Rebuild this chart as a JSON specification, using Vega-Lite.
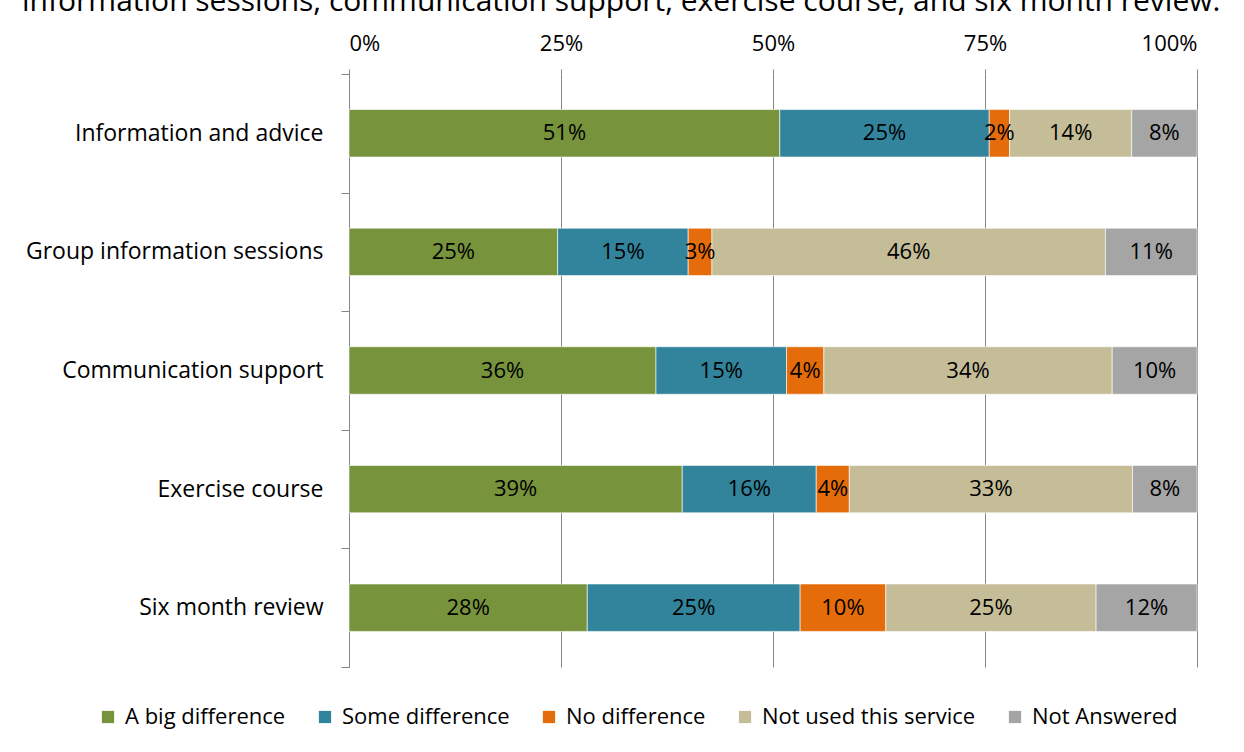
{
  "$schema": "https://vega.github.io/schema/vega-lite/v6.json",
  "width": 848,
  "height": 593,
  "autosize": {"type": "none"},
  "padding": {"left": 349, "top": 74, "right": 47, "bottom": 85},
  "title": {
    "text": "information sessions, communication support, exercise course, and six month review.",
    "anchor": "start",
    "frame": "group",
    "dx": -327,
    "offset": 15,
    "fontSize": 30,
    "font": "Open Sans",
    "fontWeight": "normal",
    "color": "black"
  },
  "data": {
    "values": [
      {"service": "Information and advice", "category": "A big difference", "order": 1, "value": 50.8},
      {"service": "Information and advice", "category": "Some difference", "order": 2, "value": 24.7},
      {"service": "Information and advice", "category": "No difference", "order": 3, "value": 2.4},
      {"service": "Information and advice", "category": "Not used this service", "order": 4, "value": 14.4},
      {"service": "Information and advice", "category": "Not Answered", "order": 5, "value": 7.7},
      {"service": "Group information sessions", "category": "A big difference", "order": 1, "value": 24.6},
      {"service": "Group information sessions", "category": "Some difference", "order": 2, "value": 15.4},
      {"service": "Group information sessions", "category": "No difference", "order": 3, "value": 2.8},
      {"service": "Group information sessions", "category": "Not used this service", "order": 4, "value": 46.4},
      {"service": "Group information sessions", "category": "Not Answered", "order": 5, "value": 10.8},
      {"service": "Communication support", "category": "A big difference", "order": 1, "value": 36.2},
      {"service": "Communication support", "category": "Some difference", "order": 2, "value": 15.4},
      {"service": "Communication support", "category": "No difference", "order": 3, "value": 4.4},
      {"service": "Communication support", "category": "Not used this service", "order": 4, "value": 34.0},
      {"service": "Communication support", "category": "Not Answered", "order": 5, "value": 10.0},
      {"service": "Exercise course", "category": "A big difference", "order": 1, "value": 39.3},
      {"service": "Exercise course", "category": "Some difference", "order": 2, "value": 15.8},
      {"service": "Exercise course", "category": "No difference", "order": 3, "value": 3.9},
      {"service": "Exercise course", "category": "Not used this service", "order": 4, "value": 33.4},
      {"service": "Exercise course", "category": "Not Answered", "order": 5, "value": 7.6},
      {"service": "Six month review", "category": "A big difference", "order": 1, "value": 28.1},
      {"service": "Six month review", "category": "Some difference", "order": 2, "value": 25.1},
      {"service": "Six month review", "category": "No difference", "order": 3, "value": 10.1},
      {"service": "Six month review", "category": "Not used this service", "order": 4, "value": 24.8},
      {"service": "Six month review", "category": "Not Answered", "order": 5, "value": 11.9}
    ]
  },
  "transform": [
    {"stack": "value", "groupby": ["service"], "sort": [{"field": "order"}], "as": ["v0", "v1"], "offset": "normalize"},
    {"calculate": "(datum.v0 + datum.v1) / 2", "as": "mid"},
    {"calculate": "format(datum.value, '.0f') + '%'", "as": "label"}
  ],
  "encoding": {
    "y": {
      "field": "service",
      "type": "nominal",
      "sort": ["Information and advice", "Group information sessions", "Communication support", "Exercise course", "Six month review"],
      "scale": {"paddingInner": 0, "paddingOuter": 0},
      "axis": {
        "title": null,
        "tickBand": "extent",
        "domainColor": "#868686",
        "tickColor": "#868686",
        "tickSize": 8,
        "labelPadding": 18,
        "labelFont": "Open Sans",
        "labelFontSize": 23,
        "labelColor": "black",
        "labelLimit": 400
      }
    }
  },
  "layer": [
    {
      "mark": {"type": "bar", "height": {"band": 0.4}, "stroke": "white", "strokeWidth": 0.6},
      "encoding": {
        "x": {
          "field": "v0",
          "type": "quantitative",
          "scale": {"domain": [0, 1], "nice": false},
          "axis": {
            "orient": "top",
            "title": null,
            "format": ".0%",
            "values": [0, 0.25, 0.5, 0.75, 1],
            "domain": false,
            "grid": true,
            "gridColor": "#868686",
            "gridOpacity": 1,
            "tickColor": "#868686",
            "tickSize": 5,
            "labelPadding": 14,
            "labelFont": "Open Sans",
            "labelFontSize": 22,
            "labelColor": "black"
          }
        },
        "x2": {"field": "v1"},
        "color": {
          "field": "category",
          "type": "nominal",
          "sort": ["A big difference", "Some difference", "No difference", "Not used this service", "Not Answered"],
          "scale": {
            "domain": ["A big difference", "Some difference", "No difference", "Not used this service", "Not Answered"],
            "range": ["#77933C", "#31849B", "#E46C0A", "#C4BD97", "#A5A5A5"]
          },
          "legend": {
            "title": null,
            "orient": "none",
            "direction": "horizontal",
            "legendX": -252,
            "legendY": 632,
            "symbolType": "square",
            "symbolSize": 150,
            "symbolStrokeWidth": 0,
            "labelFont": "Open Sans",
            "labelFontSize": 22,
            "labelColor": "black",
            "labelOffset": 6,
            "columnPadding": 28,
            "labelLimit": 400
          }
        }
      }
    },
    {
      "mark": {"type": "text", "font": "Open Sans", "fontSize": 22, "color": "black"},
      "encoding": {
        "x": {"field": "mid", "type": "quantitative"},
        "text": {"field": "label", "type": "nominal"}
      }
    }
  ],
  "config": {
    "view": {"stroke": null},
    "background": "white"
  }
}
